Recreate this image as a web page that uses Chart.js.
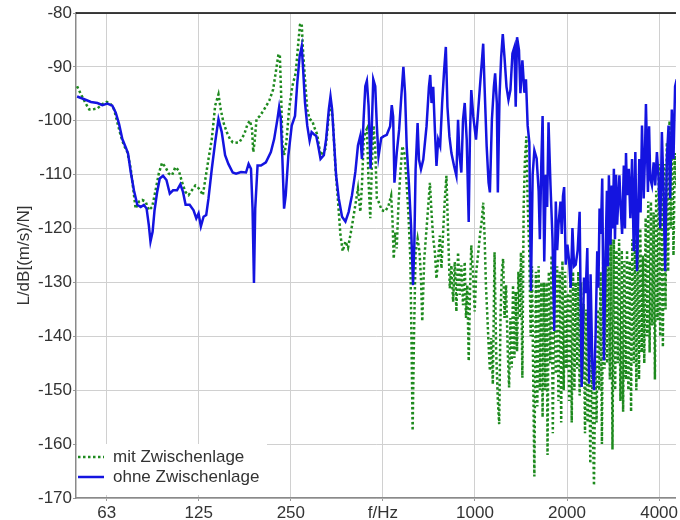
<!DOCTYPE html>
<html>
<head>
<meta charset="utf-8">
<script src="https://cdn.jsdelivr.net/npm/chart.js@4.4.0/dist/chart.umd.min.js"></script>
<style>
  html, body { margin: 0; padding: 0; background: #fff; }
  #wrap { width: 680px; height: 520px; }
</style>
</head>
<body>
<div id="wrap"><canvas id="chart" width="680" height="520"></canvas></div>
<script>
// octave ticks, the 500 Hz slot carries the axis name
const tickFreqs = [62.5, 125, 250, 500, 1000, 2000, 4000];
const tickLabels = ['63', '125', '250', 'f/Hz', '1000', '2000', '4000'];
const seriesNames = ['mit Zwischenlage', 'ohne Zwischenlage'];

// mit Zwischenlage (green, dotted)
const mitFreq = [
  50.0, 51.5, 53.5, 54.8, 56.2, 58.3, 60.5, 62.5, 64.4, 66.1, 67.7, 69.5, 71.2, 73.0, 74.9, 76.3,
  77.7, 79.7, 81.6, 83.8, 85.8, 88.0, 90.3, 92.5, 94.8, 97.3, 99.7, 102.2, 104.8, 107.5, 110.1, 113.0,
  115.8, 118.7, 121.8, 123.9, 126.4, 128.9, 131.2, 134.5, 137.9, 141.4, 145.0, 147.5, 150.5, 154.3, 158.2, 161.4,
  163.4, 169.7, 176.1, 180.5, 183.8, 186.6, 188.4, 190.2, 193.1, 198.1, 204.5, 212.4, 218.8, 224.3, 227.7, 230.1,
  232.3, 234.6, 237.6, 241.7, 246.7, 252.8, 259.4, 264.4, 267.8, 271.3, 273.9, 278.1, 282.9, 288.0, 293.7, 299.6,
  304.8, 312.7, 324.6, 332.8, 337.0, 342.9, 349.9, 356.7, 363.2, 369.5, 377.1, 384.5, 391.5, 398.3, 406.4, 414.4,
  421.9, 427.0, 432.4, 438.0, 443.2, 448.9, 454.7, 460.1, 466.1, 472.0, 477.7, 483.8, 495.9, 508.7,
  521.4, 532.0, 537.3, 542.5, 548.2, 554.8, 561.9, 570.4, 579.0, 587.7, 596.6, 605.6, 614.8, 620.8, 625.4, 632.0,
  639.6, 649.3, 659.1, 666.0, 672.5, 682.7, 693.0, 703.4, 712.4, 721.0, 730.3, 739.6, 748.5, 758.1, 767.8, 777.1,
  788.8, 797.1, 806.7, 817.0, 827.5, 837.5, 848.2, 859.0, 869.4, 880.5, 891.8, 902.5, 914.1, 925.8, 934.9, 944.0,
  954.0, 963.3, 972.7, 985.2, 997.8, 1010, 1023, 1038, 1054, 1064, 1075, 1086, 1096, 1108, 1119, 1130,
  1144, 1159, 1173, 1188, 1200, 1212, 1224, 1236, 1249, 1264, 1280, 1293, 1306, 1319, 1332, 1346,
  1359, 1373, 1387, 1401, 1414, 1429, 1443, 1457, 1473,
  1487, 1506, 1521, 1536, 1564, 1582, 1599, 1615, 1630, 1648, 1664, 1680, 1698, 1714, 1727, 1744,
  1762, 1780, 1797, 1816, 1838, 1857, 1875, 1894, 1914, 1932, 1951, 1972, 1991, 2011, 2032, 2052,
  2072, 2093, 2114, 2135, 2157, 2178, 2199, 2223, 2244, 2266, 2290, 2313, 2335, 2360, 2383, 2406,
  2432, 2450, 2474, 2498, 2524, 2549, 2574, 2601, 2626, 2652, 2680, 2706, 2733, 2761, 2789, 2816,
  2846, 2873, 2901, 2932, 2960, 2990, 3021, 3051, 3080, 3113, 3143, 3174, 3207, 3239, 3270, 3305,
  3337, 3370, 3405, 3439, 3472, 3509, 3543, 3578, 3615, 3651, 3686, 3725, 3762, 3799, 3839, 3876,
  3914, 3955, 3994, 4033, 4076, 4116, 4156, 4199, 4240, 4282, 4327, 4369, 4412, 4458, 4502, 4546, 4570
];
const mitDb = [
  -93.6, -95.1, -96.9, -97.9, -97.9, -97.7, -96.9, -96.5, -96.9, -97.9, -100.3, -102.8, -104.6, -105.8, -108.9, -112.6,
  -116.3, -115.0, -114.7, -115.0, -116.6, -116.0, -112.9, -109.8, -107.8, -108.6, -109.8, -110.1, -108.6, -109.2, -111.3, -113.2,
  -113.8, -112.9, -112.0, -112.3, -112.9, -113.8, -111.0, -107.1, -103.4, -97.2, -95.1, -97.9, -100.3, -102.1, -103.4, -104.0,
  -104.1, -104.0, -102.5, -100.6, -100.0, -101.5, -105.8, -104.0, -99.7, -99.1, -97.9, -96.3, -94.2, -90.2, -87.7, -87.7,
  -94.8, -104.0, -106.4, -104.0, -97.9, -93.6, -91.1, -85.6, -82.2, -81.9, -86.8, -92.3, -97.9, -99.7, -100.0, -101.5,
  -102.5, -106.4, -105.2, -99.1, -96.6, -99.7, -108.9, -115.0, -121.2, -124.2, -122.4, -123.6, -121.2, -118.7, -115.6, -112.6,
  -116.9, -112.0, -104.0, -102.1, -101.5, -111.3, -118.1, -108.3, -100.9, -105.2, -114.4, -115.0, -116.6, -116.8,
  -115.8, -113.9, -118.2, -125.6, -120.7, -123.7, -115.8, -109.6, -104.7, -106.0, -110.9, -117.0, -125.6, -142.8, -157.5, -139.7,
  -124.4, -121.9, -124.4, -129.3, -137.2, -125.6, -120.7, -115.8, -111.5, -117.0, -121.9, -124.4, -129.3, -125.6, -121.3, -127.4,
  -119.4, -114.5, -110.2, -120.7, -131.1, -126.8, -133.6, -126.2, -135.4, -124.4, -132.3, -126.8, -134.2, -126.2, -136.6, -130.5,
  -144.6, -131.7, -123.1, -128.0, -135.4, -128.0, -125.0, -121.3, -118.2, -115.2, -121.3, -130.5, -135.4, -141.5, -146.4, -140.3,
  -148.9, -124.4, -142.8, -152.0, -156.3, -136.6, -128.0, -125.6, -136.6, -130.5, -142.8, -149.5, -136.6, -145.8, -130.5, -144.0,
  -131.7, -142.8, -128.0, -136.6, -124.4, -147.7, -115.8, -107.2, -102.9,
  -115, -125, -140, -127, -166, -128, -153, -127, -150, -130, -155, -130, -150, -130, -162, -128,
  -145, -125, -158, -130, -147, -127, -152, -128, -156, -126, -150, -128, -146, -132, -152, -127,
  -156, -128, -150, -130, -146, -128, -151, -130, -148, -134, -158, -135, -156, -138, -163.6, -142,
  -158, -167.7, -145, -156, -135, -150, -128, -160, -126, -146, -124, -145, -122, -148, -122, -161,
  -122, -150, -124, -145, -122, -152, -124, -154, -126, -148, -124, -150, -126, -154, -122, -145,
  -122, -150, -120, -148, -120, -143, -125, -145, -118, -140, -115, -143, -115, -138, -117, -148,
  -113, -137, -108, -140, -110, -142, -108, -135, -104, -128, -100, -120, -102, -125, -106, -112, -108
];

// ohne Zwischenlage (blue, solid)
const ohneFreq = [
  50.0, 52.8, 55.5, 58.3, 60.5, 62.8, 65.2, 66.9, 68.6, 70.3, 72.1, 73.4, 74.9, 76.7, 78.7, 80.7,
  82.7, 84.4, 85.8, 86.9, 88.3, 89.6, 91.4, 93.2, 95.5, 98.0, 100.5, 103.0, 106.1, 108.8, 111.0, 113.2,
  116.7, 120.2, 122.7, 124.8, 127.0, 129.6, 132.2, 134.5, 137.9, 141.4, 145.0, 148.6, 152.4, 156.2, 161.4,
  165.5, 171.8, 178.4, 181.9, 185.2, 187.4, 189.4, 191.2, 194.6, 199.6, 207.2, 215.1, 220.5, 226.0, 228.9, 231.8,
  234.6, 237.6, 240.6, 245.4, 251.7, 258.0, 262.5, 267.2, 271.3, 273.9, 278.1, 282.9, 288.0, 292.3, 297.4, 302.6,
  307.1, 312.7, 320.5, 326.1, 332.8, 337.0, 341.1, 346.2, 351.5, 358.6, 367.6, 377.1, 386.5, 396.2, 406.4, 414.4,
  421.9, 427.0, 432.4, 438.0, 443.2, 448.9, 455.7, 460.1, 465.0, 472.0, 477.7, 483.8,
  493.7, 502.2, 514.8, 528.1, 534.5, 540.1, 545.4, 554.8, 564.9, 573.4, 583.4, 590.8, 598.0, 608.8, 618.0, 627.3,
  633.4, 639.6, 649.3, 656.1, 666.0, 677.6, 694.5, 707.1, 714.0, 721.0, 730.3, 739.6, 748.5, 758.1, 769.5, 781.1,
  792.9, 803.1, 812.8, 825.0, 837.5, 854.5, 869.4, 880.5, 889.1, 902.5, 914.1, 925.8, 939.8, 954.0, 963.3, 972.7,
  987.4, 1008, 1023, 1038, 1054, 1064, 1075, 1092, 1108, 1119, 1136, 1153, 1164, 1179, 1188, 1203,
  1218, 1233, 1249, 1268, 1287, 1306, 1326, 1346, 1359, 1373, 1393, 1408, 1429,
  1451, 1468, 1487, 1506, 1524, 1544, 1564, 1591, 1615, 1630, 1648, 1664, 1685, 1705, 1722, 1740,
  1766, 1793, 1816, 1838, 1857, 1875, 1904, 1922, 1940, 1957, 1981, 2006, 2032, 2057, 2083, 2109,
  2135, 2167, 2199, 2233, 2273, 2301, 2330, 2360, 2388, 2419, 2450, 2479, 2511, 2533, 2555, 2580,
  2607, 2640, 2672, 2700, 2720, 2741, 2774, 2800, 2822, 2846, 2870, 2893, 2917, 2967, 2995, 3028,
  3067, 3093, 3118, 3143, 3183, 3222, 3263, 3305, 3345, 3388, 3417, 3446, 3480, 3517, 3562, 3590,
  3623, 3678, 3710, 3742, 3790, 3839, 3885, 3935, 3985, 4035, 4085, 4137, 4187, 4240, 4295, 4346,
  4402, 4458, 4512, 4570
];
const ohneDb = [
  -95.5, -96.0, -96.5, -96.7, -97.1, -96.8, -97.2, -98.5, -100.6, -103.4, -104.9, -106.1, -109.5, -112.9, -115.6, -116.0,
  -115.6, -116.3, -119.3, -122.4, -120.6, -116.6, -113.2, -110.7, -110.2, -111.0, -113.5, -112.9, -112.9, -111.8, -113.2, -115.6,
  -115.6, -116.6, -118.1, -117.2, -119.6, -117.8, -117.5, -114.4, -108.9, -104.0, -99.7, -102.1, -106.4, -108.0, -109.6,
  -109.8, -109.5, -109.6, -108.0, -108.9, -116.3, -130.1, -116.3, -108.3, -108.3, -107.7, -105.8, -103.4, -99.7, -97.5, -99.7,
  -107.1, -116.3, -113.8, -106.4, -100.9, -99.1, -92.9, -88.0, -86.2, -89.9, -96.6, -100.9, -103.7, -102.1, -102.5, -102.8,
  -104.6, -107.1, -106.4, -103.4, -97.9, -95.5, -97.9, -104.0, -110.1, -114.4, -117.8, -118.7, -116.9, -113.8, -109.5, -104.6,
  -102.8, -107.1, -99.7, -93.6, -92.6, -97.2, -108.9, -100.9, -92.3, -93.6, -100.9, -106.6,
  -103.2, -102.9, -102.6, -101.0, -97.1, -99.2, -111.5, -106.0, -101.7, -96.1, -90.0, -94.9, -104.7, -112.1, -119.4, -130.5,
  -123.1, -109.0, -100.4, -107.2, -109.0, -107.2, -101.0, -93.7, -91.5, -96.7, -93.7, -101.7, -108.4, -103.5, -104.7, -96.7,
  -90.6, -86.3, -97.4, -102.9, -106.0, -108.4, -110.2, -99.8, -106.0, -109.6, -99.8, -96.7, -103.5, -118.8, -102.3, -94.3,
  -99.2, -103.5, -98.6, -93.7, -88.8, -85.7, -93.7, -104.7, -111.5, -113.3, -99.8, -93.7, -91.2, -96.7, -113.3, -95.5,
  -88.2, -83.9, -88.2, -93.7, -96.1, -94.3, -87.5, -86.3, -97.4, -84.5, -86.9, -94.9, -88.8,
  -94.8, -92.3, -100.9, -104.0, -131.6, -110.0, -105.5, -107.0, -113.0, -122.0, -108.0, -99.1, -126.1, -110.0, -116.0, -100.3,
  -112.0, -122.0, -139.0, -115.0, -124.0, -119.3, -115.0, -121.0, -114.0, -112.3, -126.7, -123.0, -126.0, -131.0, -119.9, -127.0,
  -126.7, -124.0, -116.9, -149.4, -129.1, -132.0, -123.6, -148.8, -128.5, -145.0, -150.0, -140.0, -124.2, -131.0, -116.3, -121.0,
  -110.7, -144.5, -125.5, -113.0, -127.0, -110.1, -123.0, -112.0, -120.0, -108.9, -122.0, -110.0, -119.3, -110.1, -116.0, -121.0,
  -108.3, -120.0, -106.0, -113.8, -108.9, -118.1, -107.1, -124.2, -105.8, -127.9, -118.0, -107.1, -117.0, -100.9, -114.4, -108.0,
  -96.9, -113.2, -101.0, -110.7, -112.0, -107.7, -112.0, -105.8, -110.7, -120.0, -102.1, -113.2, -127.9, -107.1, -100.9, -114.4,
  -97.9, -107.1, -93.6, -92.3
];

const GREEN = '#1e8a1e';
const BLUE = '#1414e0';
const FONT = '"Liberation Sans", Arial, sans-serif';
const TEXT = '#333';

function toPoints(xs, ys) {
  return xs.map((x, i) => ({ x: x, y: ys[i] }));
}

// legend box in the lower left corner of the plot + black top frame line
const plotExtras = {
  id: 'plotExtras',
  afterDraw(chart) {
    const ctx = chart.ctx;
    const area = chart.chartArea;
    ctx.save();

    ctx.strokeStyle = '#000';
    ctx.lineWidth = 1.5;
    ctx.beginPath();
    ctx.moveTo(area.left, area.top);
    ctx.lineTo(area.right, area.top);
    ctx.stroke();

    const x0 = area.left + 1;
    const rowY = [area.bottom - 41, area.bottom - 21];
    ctx.fillStyle = '#fff';
    ctx.fillRect(x0, area.bottom - 54, 190, 51);

    chart.data.datasets.forEach((ds, i) => {
      const y = rowY[i];
      ctx.strokeStyle = ds.borderColor;
      ctx.lineWidth = ds.borderWidth;
      ctx.setLineDash(ds.borderDash || []);
      ctx.beginPath();
      ctx.moveTo(x0 + 1, y);
      ctx.lineTo(x0 + 27, y);
      ctx.stroke();
      ctx.setLineDash([]);
      ctx.fillStyle = TEXT;
      ctx.font = '17px ' + FONT;
      ctx.textBaseline = 'middle';
      ctx.fillText(ds.label, x0 + 36, y);
    });
    ctx.restore();
  }
};

new Chart(document.getElementById('chart'), {
  type: 'line',
  data: {
    datasets: [
      {
        label: seriesNames[0],
        data: toPoints(mitFreq, mitDb),
        borderColor: GREEN,
        borderWidth: 2.5,
        borderDash: [2.5, 2.5],
        pointRadius: 0,
        tension: 0,
        fill: false,
        order: 1
      },
      {
        label: seriesNames[1],
        data: toPoints(ohneFreq, ohneDb),
        borderColor: BLUE,
        borderWidth: 2.5,
        pointRadius: 0,
        tension: 0,
        fill: false,
        order: 0
      }
    ]
  },
  options: {
    responsive: false,
    animation: false,
    layout: { padding: { top: 13, right: 0, left: 0, bottom: 0 } },
    scales: {
      x: {
        type: 'logarithmic',
        min: 49.6,
        max: 4542,
        afterBuildTicks: scale => {
          scale.ticks = tickFreqs.map(v => ({ value: v }));
        },
        afterFit: scale => { scale.height = 22; },
        ticks: {
          autoSkip: false,
          maxRotation: 0,
          padding: 2,
          color: TEXT,
          font: { family: FONT, size: 17 },
          callback: (value, index) => tickLabels[index]
        },
        grid: { color: '#d0d0d0', lineWidth: 1, tickLength: 3, tickColor: '#999' },
        border: { color: '#8a8a8a', width: 1.5 }
      },
      y: {
        min: -170,
        max: -80,
        afterFit: scale => { scale.width = 76; },
        ticks: {
          stepSize: 10,
          padding: 1,
          color: TEXT,
          font: { family: FONT, size: 17 }
        },
        title: {
          display: true,
          text: 'L/dB[(m/s)/N]',
          color: TEXT,
          font: { family: FONT, size: 17 },
          padding: { top: 14, bottom: 0 }
        },
        grid: { color: '#d0d0d0', lineWidth: 1, tickLength: 3, tickColor: '#999' },
        border: { color: '#8a8a8a', width: 1.5 }
      }
    },
    plugins: {
      legend: { display: false },
      tooltip: { enabled: false }
    }
  },
  plugins: [plotExtras]
});
</script>
</body>
</html>
